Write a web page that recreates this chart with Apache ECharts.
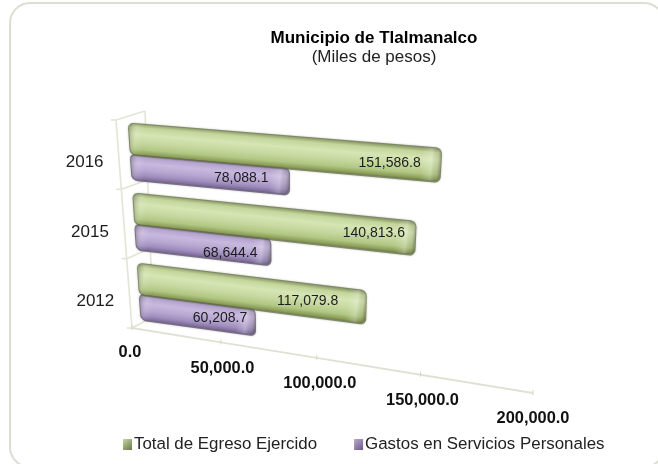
<!DOCTYPE html>
<html><head><meta charset="utf-8">
<style>html,body{margin:0;padding:0;background:#fff}#c{width:658px;height:464px}</style>
<script src="https://cdn.jsdelivr.net/npm/echarts@6/dist/echarts.min.js"></script>
</head><body><div id="c"></div>
<script>
const categories = ['2012', '2015', '2016'];
const totalEgreso = [117079.8, 140813.6, 151586.8];
const gastosPersonales = [60208.7, 68644.4, 78088.1];
const valueTicks = [0, 50000, 100000, 150000, 200000];
const valueTickLabels = ['0.0', '50,000.0', '100,000.0', '150,000.0', '200,000.0'];
const seriesNames = ['Total de Egreso Ejercido', 'Gastos en Servicios Personales'];

// ---- layout only ----
const FONT = '"Liberation Sans", Arial, sans-serif';
const G = {left: 128, top: 119, width: 400, height: 210};
const C = {BL: [141, 329], BR: [524, 383], TL: [127.5, 119], TR: [543, 152]};
const AX = {a: [132, 328], b: [533, 393], persp: 1.17};
const tickLabelPos = [[-2, 24], [1.5, 26.5], [3, 26], [2, 26], [0, 25]];
const greenLabelGap = [29, 11, 20], purpleLabelGap = [9, 14, 21];
const greenLabelDy = [-3, -4, -1], purpleLabelDy = [-3, 2, -2];
const greenStops = ['#7f8f5c', '#c4d59b', '#d6e5b4', '#c6d89f', '#b1c783', '#8b9e58', '#5f6c40'];
const purpleStops = ['#8d7bab', '#b6a5d0', '#c7b9de', '#b7a7d1', '#a08fbe', '#7f6d9c', '#56486c'];
const lerp = (a, b, t) => [a[0] + (b[0] - a[0]) * t, a[1] + (b[1] - a[1]) * t];
const proj = (x, y) => {
  const u = (x - G.left) / G.width, v = (G.top + G.height - y) / G.height;
  return lerp(lerp(C.BL, C.BR, u), lerp(C.TL, C.TR, u), v);
};
function roundedBar(x0, x1, y0, y1, r) {
  const pts = [], n = 6;
  const arc = (cx, cy, a0) => {
    for (let i = 0; i <= n; i++) {
      const a = a0 + i / n * Math.PI / 2;
      pts.push(proj(cx + r * Math.cos(a), cy + r * Math.sin(a)));
    }
  };
  arc(x1 - r, y0 + r, -Math.PI / 2); arc(x1 - r, y1 - r, 0);
  arc(x0 + r, y1 - r, Math.PI / 2); arc(x0 + r, y0 + r, Math.PI);
  return pts;
}
function barRenderer(stops, f0, f1, gaps, dys) {
  return function (params, api) {
    const idx = api.value(0), val = api.value(1);
    const p0 = api.coord([0, idx]), p1 = api.coord([val, idx]);
    const band = api.size([0, 1])[1];
    const top = p0[1] - band / 2, y0 = top + band * f0, y1 = top + band * f1;
    const x0 = p0[0], x1 = p1[0], ym = (y0 + y1) / 2, xm = (x0 + x1) / 2;
    const outer = roundedBar(x0, x1, y0, y1, 6);
    const inner = roundedBar(x0 + 1, x1 - 1, y0 + 1, y1 - 1.5, 5);
    const gt = proj(xm, y0), gb = proj(xm, y1);
    const gl = proj(x0, ym), gr = proj(x1, ym);
    // gradient runs square to the bar's own axis
    const len = Math.hypot(gr[0] - gl[0], gr[1] - gl[1]);
    const nx = -(gr[1] - gl[1]) / len, ny = (gr[0] - gl[0]) / len;
    const d = (gb[0] - gt[0]) * nx + (gb[1] - gt[1]) * ny;
    const across = {type: 'linear', global: true, x: gt[0], y: gt[1], x2: gt[0] + nx * d, y2: gt[1] + ny * d,
      colorStops: stops.map((c, i) => ({offset: [0, .14, .34, .58, .78, .92, 1][i], color: c}))};
    const L = x1 - x0;
    const along = {type: 'linear', global: true, x: gl[0], y: gl[1], x2: gr[0], y2: gr[1],
      colorStops: [
        {offset: 0, color: 'rgba(70,70,50,0.30)'},
        {offset: 7 / L, color: 'rgba(255,255,255,0.10)'},
        {offset: 14 / L, color: 'rgba(255,255,255,0)'},
        {offset: 1 - 20 / L, color: 'rgba(255,255,255,0)'},
        {offset: 1 - 10 / L, color: 'rgba(255,255,255,0.22)'},
        {offset: 1 - 4 / L, color: 'rgba(90,90,70,0.12)'},
        {offset: 1, color: 'rgba(60,60,40,0.50)'}]};
    const lab = proj(x1 - gaps[idx], ym);
    return {type: 'group', children: [
      {type: 'polygon', shape: {points: outer}, style: {fill: stops[6], opacity: .7, shadowBlur: 2, shadowColor: 'rgba(60,60,40,0.5)'}},
      {type: 'polygon', shape: {points: inner}, style: {fill: across}},
      {type: 'polygon', shape: {points: inner}, style: {fill: along}},
      {type: 'text', x: lab[0], y: lab[1] + dys[idx], style: {
        text: api.value(2), font: '14px ' + FONT, fill: '#1c1c1c', align: 'right', verticalAlign: 'middle'}}
    ]};
  };
}
const fmt = v => v.toLocaleString('en-US', {minimumFractionDigits: 1, maximumFractionDigits: 1});
function wallRenderer(params, api) {
  const idx = api.value(0);
  const p = api.coord([0, idx]), band = api.size([0, 1])[1];
  const vOf = y => (G.top + G.height - y) / G.height;
  const W = v => lerp([132, 328], [116, 120], v), B = v => lerp([153, 317], [145, 111], v);
  const line = (a, b) => ({type: 'line', shape: {x1: a[0], y1: a[1], x2: b[0], y2: b[1]},
    style: {stroke: '#e2e5d6', lineWidth: 1.6}});
  const vBot = vOf(p[1] + band / 2), vTop = vOf(p[1] - band / 2), vMid = vOf(p[1]);
  const wm = W(vMid), wt = W(vTop), wb = W(vBot);
  const kids = [
    line(wb, wt), line(B(vBot), B(vTop)), line(wt, B(vTop)),
    line([wt[0] - 5, wt[1]], wt)
  ];
  if (idx === 0) kids.push(line(wb, B(vBot)), line([wb[0] - 5, wb[1]], wb));
  kids.push({type: 'text', x: wm[0] - 34, y: wm[1] + 8, style: {
    text: categories[idx], font: '17px ' + FONT, fill: '#1c1c1c', align: 'center', verticalAlign: 'middle'}});
  return {type: 'group', children: kids};
}
const axisFrac = t => t / (t + (1 - t) * AX.persp);
function axisRenderer(params, api) {
  const i = params.dataIndex, px = api.coord([api.value(0), 0])[0];
  const t = (px - G.left) / G.width;
  const p = lerp(AX.a, AX.b, axisFrac(t)), kids = [];
  if (i < valueTicks.length - 1) {
    const q = lerp(AX.a, AX.b, axisFrac(t + .25));
    kids.push({type: 'line', shape: {x1: p[0], y1: p[1], x2: q[0], y2: q[1]},
      style: {stroke: '#dfe2d3', lineWidth: 1.8}});
  }
  kids.push({type: 'line', shape: {x1: p[0], y1: p[1] - 3, x2: p[0], y2: p[1] + 2},
    style: {stroke: '#d3d7c2', lineWidth: 1}});
  const o = tickLabelPos[i];
  kids.push({type: 'text', x: p[0] + o[0], y: p[1] + o[1], style: {
    text: valueTickLabels[i], font: 'bold 16.4px ' + FONT, fill: '#111', align: 'center', verticalAlign: 'middle'}});
  return {type: 'group', children: kids};
}
const swatch = (a, b) => ({type: 'linear', x: 0, y: 0, x2: 1, y2: 1,
  colorStops: [{offset: 0, color: a}, {offset: 1, color: b}]});
const chart = echarts.init(document.getElementById('c'), null, {renderer: 'canvas'});
chart.setOption({
  animation: false,
  backgroundColor: '#fff',
  title: {
    text: 'Municipio de Tlalmanalco', subtext: '(Miles de pesos)',
    left: 369, top: 25, textAlign: 'center', itemGap: 2,
    textStyle: {fontFamily: FONT, fontWeight: 'bold', fontSize: 17, color: '#000'},
    subtextStyle: {fontFamily: FONT, fontSize: 17, color: '#222'}
  },
  graphic: [{type: 'rect', z: -1, shape: {x: 10, y: 3, width: 654, height: 464, r: 20},
    style: {fill: '#fff', stroke: '#dcdfd0', lineWidth: 2}}],
  grid: {left: G.left, top: G.top, width: G.width, height: G.height},
  xAxis: {type: 'value', min: 0, max: 200000, interval: 50000, show: false},
  yAxis: {type: 'category', data: categories, show: false},
  legend: {
    data: seriesNames, left: 118, top: 431, icon: 'rect', itemWidth: 9, itemHeight: 11, itemGap: 37,
    textStyle: {fontFamily: FONT, fontSize: 16.9, color: '#222', padding: [0, 0, 0, -3]}
  },
  series: [
    {type: 'custom', name: 'wall', silent: true, z: 1, renderItem: wallRenderer,
     data: categories.map((c, i) => [i]), encode: {x: -1, y: 0}},
    {type: 'custom', name: 'axis', silent: true, z: 1, renderItem: axisRenderer,
     data: valueTicks.map(v => [v]), encode: {x: 0, y: -1}},
    {type: 'custom', name: seriesNames[1], z: 2, itemStyle: {color: swatch('#b9a9d2', '#6a5a85')},
     renderItem: barRenderer(purpleStops, 0.49, 0.88, purpleLabelGap, purpleLabelDy),
     data: gastosPersonales.map((v, i) => [i, v, fmt(v)]), encode: {x: 1, y: 0}},
    {type: 'custom', name: seriesNames[0], z: 3, itemStyle: {color: swatch('#c6d89f', '#69784a')},
     renderItem: barRenderer(greenStops, 0.05, 0.52, greenLabelGap, greenLabelDy),
     data: totalEgreso.map((v, i) => [i, v, fmt(v)]), encode: {x: 1, y: 0}}
  ]
});
</script></body></html>
